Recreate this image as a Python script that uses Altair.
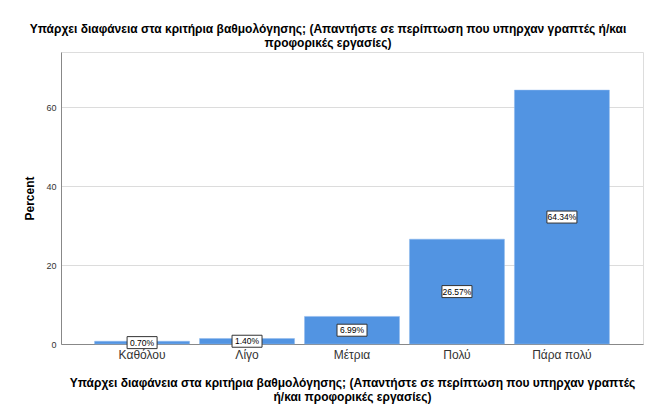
import altair as alt
import pandas as pd

categories = ["Καθόλου", "Λίγο", "Μέτρια", "Πολύ", "Πάρα πολύ"]
percents = [0.70, 1.40, 6.99, 26.57, 64.34]
labels = ["0.70%", "1.40%", "6.99%", "26.57%", "64.34%"]
y_ticks = [0, 20, 40, 60]

title_lines = [
    "Υπάρχει διαφάνεια στα κριτήρια βαθμολόγησης; (Απαντήστε σε περίπτωση που υπηρχαν γραπτές ή/και",
    "προφορικές εργασίες)",
]
x_title_lines = [
    "Υπάρχει διαφάνεια στα κριτήρια βαθμολόγησης; (Απαντήστε σε περίπτωση που υπηρχαν γραπτές",
    "ή/και προφορικές εργασίες)",
]

df = pd.DataFrame({"cat": categories, "pct": percents, "label": labels})
df["mid"] = df["pct"] / 2

FONT = "Liberation Sans"

x = alt.X(
    "cat:N",
    sort=categories,
    title=x_title_lines,
    scale=alt.Scale(paddingInner=0.095, paddingOuter=0.32),
    axis=alt.Axis(
        labelAngle=0, ticks=False, labelFontSize=12, labelColor="#333333",
        labelPadding=5, labelFont=FONT, titleFont=FONT, titleFontSize=12,
        titleFontWeight="bold", titleColor="black", titlePadding=17,
        titleLineHeight=14, domainColor="#888888", grid=False,
    ),
)

yscale = alt.Scale(domain=[0, 74], nice=False)
yaxis = alt.Axis(
    values=y_ticks, ticks=False, labelFontSize=9, labelColor="#333333",
    labelPadding=5, labelFont=FONT, titleFont=FONT, titleFontSize=12,
    titleFontWeight="bold", titleColor="black", titlePadding=9,
    domainColor="#888888", gridColor="#dcdcdc", grid=True,
)

bars = alt.Chart(df).mark_bar(color="#5294e2", stroke="#8fb8ec", strokeWidth=0.5).encode(
    x=x,
    y=alt.Y("pct:Q", title="Percent", scale=yscale, axis=yaxis),
)

boxes = alt.Chart(df).mark_point(
    shape="M-1,-0.4H1V0.4H-1Z", size=900, fill="white", stroke="#333333",
    strokeWidth=1, fillOpacity=1, strokeOpacity=1, opacity=1,
).encode(x=alt.X("cat:N", sort=categories), y=alt.Y("mid:Q", scale=yscale))

texts = alt.Chart(df).mark_text(fontSize=8.5, font=FONT, color="black").encode(
    x=alt.X("cat:N", sort=categories), y=alt.Y("mid:Q", scale=yscale), text="label:N"
)

chart = (
    alt.layer(bars, boxes, texts)
    .properties(
        width=582,
        height=292,
        title=alt.Title(
            text=title_lines, fontSize=12, fontWeight="bold", font=FONT,
            anchor="middle", dx=-24, offset=2, color="black", lineHeight=14,
        ),
        autosize=alt.AutoSizeParams(type="none"),
        padding={"left": 53, "top": 44, "right": 6, "bottom": 62},
    )
    .configure_view(stroke=None)
    .configure(background="white")
)

chart.save("out.html", embed_options={"renderer": "svg", "actions": False})
